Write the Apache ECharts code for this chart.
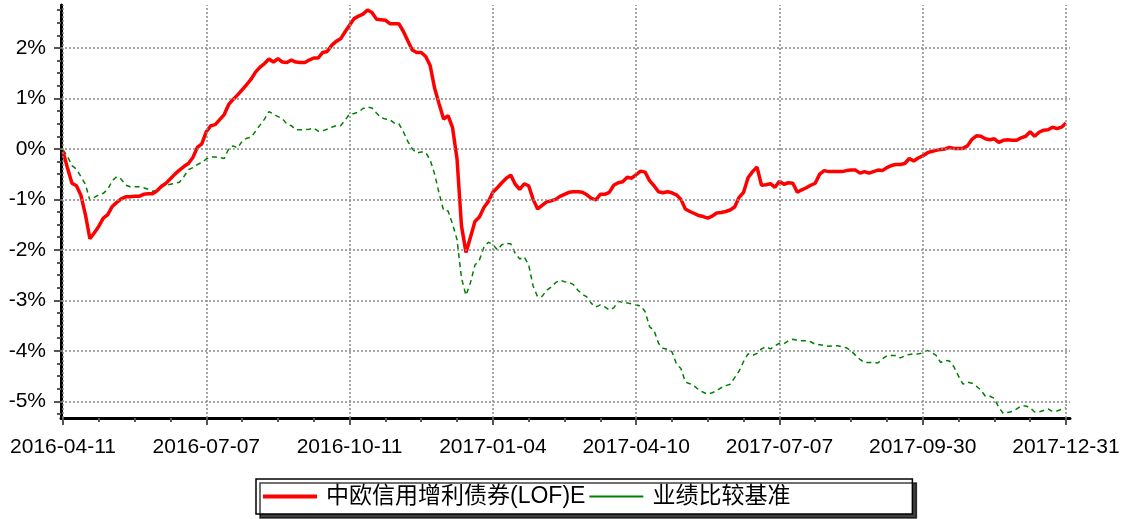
<!DOCTYPE html>
<html>
<head>
<meta charset="utf-8">
<script src="https://cdn.jsdelivr.net/npm/echarts@6/dist/echarts.min.js"></script>
<style>
html,body{margin:0;padding:0;background:#fff;}
#chart{width:1123px;height:519px;}
</style>
</head>
<body>
<div id="chart"></div>
<script>
const tickLabels = ['2016-04-11','2016-07-07','2016-10-11','2017-01-04','2017-04-10','2017-07-07','2017-09-30','2017-12-31'];
const STEP = 32; // trading-day points between two date labels
const yLabels = [-5,-4,-3,-2,-1,0,1,2];
const seriesNames = ['中欧信用增利债券(LOF)E', '业绩比较基准'];

const fundReturn = [
-0.05,-0.38,-0.68,-0.73,-0.92,-1.30,-1.78,-1.66,-1.53,-1.37,-1.30,-1.14,-1.06,-0.99,-0.95,-0.95,
-0.94,-0.94,-0.90,-0.89,-0.89,-0.83,-0.74,-0.68,-0.59,-0.50,-0.42,-0.35,-0.29,-0.17,0.03,0.10,
0.34,0.46,0.48,0.58,0.68,0.88,0.98,1.07,1.17,1.27,1.38,1.52,1.62,1.69,1.78,1.72,
1.79,1.72,1.71,1.76,1.72,1.71,1.71,1.76,1.80,1.80,1.91,1.93,2.05,2.13,2.18,2.32,
2.45,2.58,2.63,2.67,2.75,2.70,2.57,2.56,2.55,2.48,2.48,2.48,2.33,2.14,1.96,1.91,
1.91,1.83,1.65,1.20,0.89,0.59,0.66,0.42,-0.20,-1.53,-2.05,-1.75,-1.44,-1.35,-1.16,-1.04,
-0.86,-0.77,-0.67,-0.58,-0.52,-0.70,-0.80,-0.69,-0.73,-1.00,-1.19,-1.12,-1.05,-1.03,-1.00,-0.94,
-0.90,-0.86,-0.85,-0.85,-0.86,-0.91,-0.98,-1.01,-0.90,-0.90,-0.86,-0.72,-0.67,-0.65,-0.56,-0.58,
-0.51,-0.44,-0.46,-0.63,-0.73,-0.85,-0.87,-0.85,-0.87,-0.91,-1.00,-1.19,-1.24,-1.28,-1.32,-1.34,
-1.37,-1.33,-1.27,-1.26,-1.24,-1.21,-1.15,-0.96,-0.86,-0.57,-0.45,-0.36,-0.72,-0.71,-0.69,-0.76,
-0.64,-0.70,-0.67,-0.68,-0.86,-0.81,-0.77,-0.72,-0.68,-0.50,-0.43,-0.45,-0.45,-0.45,-0.45,-0.43,
-0.42,-0.42,-0.48,-0.45,-0.48,-0.45,-0.42,-0.43,-0.37,-0.33,-0.31,-0.31,-0.29,-0.19,-0.24,-0.18,
-0.14,-0.08,-0.05,-0.03,-0.01,0.00,0.03,0.01,0.01,0.01,0.06,0.19,0.26,0.25,0.20,0.18,
0.20,0.13,0.17,0.18,0.17,0.17,0.22,0.25,0.34,0.25,0.33,0.37,0.38,0.43,0.40,0.43,
0.51
];

const benchReturn = [
-0.02,-0.15,-0.33,-0.40,-0.55,-0.70,-1.02,-0.96,-0.91,-0.88,-0.80,-0.63,-0.55,-0.60,-0.72,-0.75,
-0.75,-0.75,-0.77,-0.80,-0.84,-0.82,-0.75,-0.72,-0.70,-0.68,-0.66,-0.55,-0.41,-0.37,-0.31,-0.27,
-0.20,-0.16,-0.16,-0.17,-0.19,0.00,0.06,0.02,0.15,0.21,0.23,0.35,0.47,0.59,0.74,0.69,
0.64,0.60,0.49,0.46,0.38,0.38,0.38,0.39,0.41,0.35,0.36,0.39,0.43,0.46,0.46,0.57,
0.69,0.70,0.73,0.80,0.83,0.81,0.71,0.62,0.59,0.58,0.51,0.50,0.34,0.15,0.00,-0.08,
-0.06,-0.07,-0.22,-0.50,-0.88,-1.22,-1.23,-1.49,-1.80,-2.56,-2.90,-2.65,-2.30,-2.20,-1.95,-1.85,
-1.89,-2.00,-1.90,-1.87,-1.88,-2.07,-2.18,-2.14,-2.30,-2.72,-2.93,-2.92,-2.80,-2.74,-2.65,-2.60,
-2.63,-2.64,-2.69,-2.80,-2.88,-2.93,-3.06,-3.13,-3.09,-3.13,-3.19,-3.15,-3.02,-3.04,-3.05,-3.07,
-3.09,-3.11,-3.22,-3.52,-3.60,-3.85,-3.95,-3.97,-4.02,-4.26,-4.35,-4.62,-4.65,-4.70,-4.77,-4.82,
-4.86,-4.83,-4.79,-4.73,-4.69,-4.66,-4.53,-4.40,-4.21,-4.06,-4.09,-4.05,-3.96,-3.92,-3.96,-3.90,
-3.85,-3.86,-3.80,-3.77,-3.79,-3.80,-3.80,-3.82,-3.87,-3.88,-3.89,-3.91,-3.90,-3.90,-3.92,-3.94,
-4.00,-4.09,-4.17,-4.23,-4.23,-4.23,-4.24,-4.16,-4.10,-4.09,-4.09,-4.14,-4.10,-4.07,-4.06,-4.06,
-4.04,-3.99,-4.03,-4.09,-4.23,-4.19,-4.20,-4.32,-4.50,-4.66,-4.62,-4.64,-4.70,-4.78,-4.90,-4.90,
-4.94,-5.12,-5.24,-5.22,-5.20,-5.15,-5.09,-5.09,-5.13,-5.21,-5.21,-5.18,-5.15,-5.20,-5.19,-5.16,
-5.13
];

// tick positions built from the label arrays
const majorX = tickLabels.map((_, k) => k * STEP);
const minorX = [];
for (let i = 0; i <= (tickLabels.length - 1) * STEP; i += STEP / 4) if (i % STEP) minorX.push(i);
const minorY = [];
for (let v = -5.25; v <= 2.76; v += 0.25) { const r = Math.round(v * 100) / 100; if (r % 1 !== 0) minorY.push(r); }

const FONT = '"Liberation Sans", Arial, "Noto Sans CJK SC", sans-serif';
const X_MIN = -0.45, X_MAX = 224.9, Y_MIN = -5.33, Y_MAX = 2.85;

const chart = echarts.init(document.getElementById('chart'), null, {renderer: 'canvas'});
const option = {
  animation: false,
  backgroundColor: '#fff',
  grid: {left: 61, top: 5, width: 1009, height: 413, containLabel: false},
  legend: {
    left: 256, top: 479,
    data: [
      {name: seriesNames[0], icon: 'path://M0,0H54V4H0Z'},
      {name: seriesNames[1], icon: 'path://M0,0H54V2H0Z'}
    ],
    backgroundColor: '#fff',
    borderColor: '#000', borderWidth: 1.5, borderRadius: 0,
    padding: [6, 122, 6, 7],
    itemGap: 4, itemWidth: 54, itemHeight: 14,
    shadowColor: 'rgba(0,0,0,0.75)', shadowBlur: 0, shadowOffsetX: 4, shadowOffsetY: 4,
    textStyle: {fontSize: 23, color: '#000', fontFamily: FONT, padding: [0, 0, 0, 4]}
  },
  xAxis: [
    {
      type: 'value', min: X_MIN, max: X_MAX,
      axisLine: {onZero: false, lineStyle: {color: '#000', width: 3}},
      axisTick: {customValues: majorX, length: 7, lineStyle: {color: '#555', width: 2}},
      axisLabel: {customValues: majorX, formatter: v => tickLabels[Math.round(v / STEP)], fontSize: 21, color: '#000', margin: 19, fontFamily: FONT},
      splitLine: {show: false}
    },
    {
      type: 'value', min: X_MIN, max: X_MAX, position: 'bottom',
      axisLine: {show: false, onZero: false},
      axisTick: {customValues: minorX, length: 4, lineStyle: {color: '#555', width: 2}},
      axisLabel: {show: false},
      splitLine: {show: false}
    }
  ],
  yAxis: [
    {
      type: 'value', min: Y_MIN, max: Y_MAX,
      axisLine: {show: true, onZero: false, lineStyle: {color: '#000', width: 3}},
      axisTick: {show: true, customValues: yLabels, length: 7, lineStyle: {color: '#555', width: 2}},
      axisLabel: {customValues: yLabels, formatter: v => Math.round(v) + '%', fontSize: 21, color: '#000', margin: 15, fontFamily: FONT},
      splitLine: {show: false}
    },
    {
      type: 'value', min: Y_MIN, max: Y_MAX, position: 'left',
      axisLine: {show: false, onZero: false},
      axisTick: {show: true, customValues: minorY, length: 4, lineStyle: {color: '#555', width: 2}},
      axisLabel: {show: false},
      splitLine: {show: false}
    }
  ],
  series: [
    {
      name: '__grid', type: 'line', data: [], z: 1, silent: true,
      markLine: {
        silent: true, symbol: ['none', 'none'], animation: false,
        label: {show: false},
        lineStyle: {color: '#8a8a8a', width: 1.5, type: [2, 2]},
        data: yLabels.map(v => ({yAxis: v})).concat(majorX.map(v => ({xAxis: v})))
      }
    },
    {
      name: seriesNames[1], type: 'line', z: 3, symbol: 'none',
      data: benchReturn.map((v, i) => [i, v]),
      lineStyle: {color: '#008000', width: 1.5, type: [5, 4]},
      itemStyle: {color: '#008000'}
    },
    {
      name: seriesNames[0], type: 'line', z: 4, symbol: 'none',
      data: fundReturn.map((v, i) => [i, v]),
      lineStyle: {color: '#ff0000', width: 3.5},
      itemStyle: {color: '#ff0000'}
    }
  ]
};
chart.setOption(option);
</script>
</body>
</html>
